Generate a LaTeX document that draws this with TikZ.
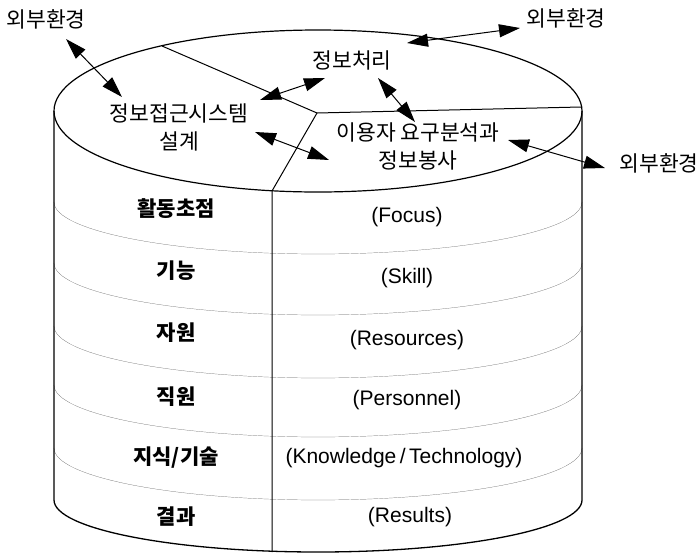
\documentclass[tikz,border=0pt]{standalone}
\usepackage{fontspec}
\setmainfont{Liberation Sans}
\newfontfamily\kr{Noto Sans CJK KR}
\usetikzlibrary{arrows.meta}

\begin{document}
\begin{tikzpicture}[x=1pt,y=-1pt,
		lbl/.style={font=\kr\fontsize{21.5}{28}\selectfont, align=center, inner sep=0pt},
		rowkr/.style={font=\kr\bfseries\fontsize{21}{24}\selectfont, inner sep=0pt},
		rowen/.style={font=\fontsize{21}{25}\selectfont, inner sep=0pt},
		link/.style={line width=1pt, {Triangle[length=21pt,width=13pt]}-{Triangle[length=21pt,width=13pt]}},
		sep/.style={very thin, black!65}]
				\useasboundingbox (0,0) rectangle (699,555);
				% row separators
				\foreach \y in {202,263,326,385,448}
					\draw[sep] (54,\y) arc[start angle=180, end angle=360, x radius=264pt, y radius=52pt];
				% cylinder
				\draw[line width=1.3pt] (54,111) -- (54,500) arc[start angle=180, end angle=360, x radius=264pt, y radius=52pt] -- (582,111);
				\draw[line width=1.2pt] (318,111) ellipse [x radius=264pt, y radius=81pt];
				\coordinate (c) at (317,113);
				\coordinate (d) at (272,191);
				\draw[line width=1pt] (162,46) -- (c) -- (581,107);
				\draw[line width=1pt] (c) -- (d) -- (272,552);
				% top labels
				\node[lbl] (envl) at (46,19) {외부환경};
				\node[lbl] (envt) at (566,18) {외부환경};
				\node[lbl] (envr) at (659,163) {외부환경};
				\node[lbl] (proc) at (352,60) {정보처리};
				\node[lbl] (access) at (179,127) {정보접근시스템\\설계};
				\node[lbl] (user) at (418,146) {이용자 요구분석과\\정보봉사};
				% arrows
				\coordinate (a1) at (66,39);   \coordinate (b1) at (122,97);
				\coordinate (a2) at (260,100); \coordinate (b2) at (325,78);
				\coordinate (a3) at (255,132); \coordinate (b3) at (329,160);
				\coordinate (a4) at (378,78);  \coordinate (b4) at (415,122);
				\coordinate (a5) at (407,43);  \coordinate (b5) at (520,28);
				\coordinate (a6) at (508,140); \coordinate (b6) at (605,168);
				\foreach \i in {1,...,6}
					\draw[link] (a\i) -- (b\i);
				% rows
				\node[rowkr] (focus) at (176,209) {활동초점};
				\node[rowkr] (skill) at (176,271) {기능};
				\node[rowkr] (res) at (176,333) {자원};
				\node[rowkr] (pers) at (176,397) {직원};
				\node[rowkr] (know) at (176,458) {지식/기술};
				\node[rowkr] (result) at (176,517) {결과};
				\node[rowen] (focusen) at (407,217) {(Focus)};
				\node[rowen] (skillen) at (407,278) {(Skill)};
				\node[rowen] (resen) at (407,340) {(Resources)};
				\node[rowen] (persen) at (407,400) {(Personnel)};
				\node[rowen] (knowen) at (404,458) {(Knowledge\,/\,Technology)};
				\node[rowen] (resulten) at (410,517) {(Results)};
				\end{tikzpicture}
\end{document}
